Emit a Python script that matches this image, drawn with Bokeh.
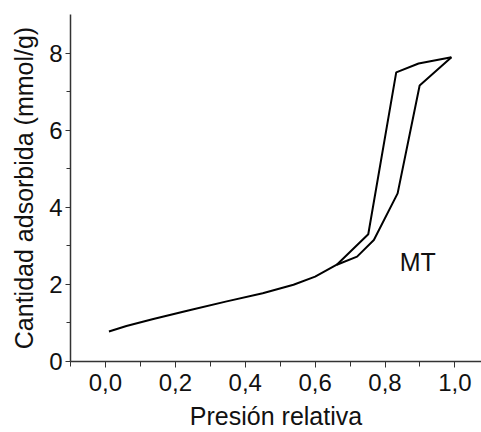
from bokeh.plotting import figure
from bokeh.models import FixedTicker, CustomJSTickFormatter, Range1d, Label
from bokeh.embed import file_html
from bokeh.resources import INLINE

# Adsorption branch (relative pressure, mmol/g)
ads_p = [0.01, 0.06, 0.137, 0.24, 0.347, 0.45, 0.538, 0.60, 0.662, 0.72, 0.768, 0.836, 0.899, 0.990]
ads_q = [0.78, 0.92, 1.10, 1.33, 1.56, 1.77, 1.99, 2.20, 2.51, 2.72, 3.15, 4.36, 7.16, 7.89]
# Desorption branch
des_p = [0.990, 0.896, 0.832, 0.752, 0.662]
des_q = [7.89, 7.73, 7.50, 3.30, 2.51]

x_ticks = [0.0, 0.2, 0.4, 0.6, 0.8, 1.0]
x_minor = [-0.1, 0.1, 0.3, 0.5, 0.7, 0.9]
y_ticks = [0, 2, 4, 6, 8]
y_minor = [1, 3, 5, 7]

x_title = "Presión relativa"
y_title = "Cantidad adsorbida (mmol/g)"
sample = "MT"

FONT = "Liberation Sans"

p = figure(width=481, height=432, output_backend="svg", toolbar_location=None,
           x_range=Range1d(-0.1, 1.076), y_range=Range1d(0, 9),
           min_border_left=70, min_border_top=14, min_border_right=0, min_border_bottom=70)
p.outline_line_color = None
p.grid.visible = False
p.background_fill_color = "white"
p.border_fill_color = "white"

p.line(ads_p, ads_q, line_color="black", line_width=2)
p.line(des_p, des_q, line_color="black", line_width=2)

p.add_layout(Label(x=0.842, y=2.59, text=sample, text_font=FONT, text_font_size="25px",
                   text_color="#111111", text_align="left", text_baseline="alphabetic"))

for ax in (p.xaxis[0], p.yaxis[0]):
    ax.axis_line_color = "#333333"
    ax.axis_line_width = 1.5
    ax.major_tick_line_color = "#333333"
    ax.minor_tick_line_color = "#333333"
    ax.major_tick_in = 0
    ax.minor_tick_in = 0
    ax.major_label_text_font = FONT
    ax.major_label_text_font_size = "24px"
    ax.major_label_text_color = "#111111"
    ax.axis_label_text_font = FONT
    ax.axis_label_text_font_size = "25px"
    ax.axis_label_text_font_style = "normal"
    ax.axis_label_text_color = "#111111"

p.xaxis.ticker = FixedTicker(ticks=x_ticks, minor_ticks=x_minor)
p.yaxis.ticker = FixedTicker(ticks=y_ticks, minor_ticks=y_minor)
p.xaxis.formatter = CustomJSTickFormatter(code="return tick.toFixed(1).replace('.', ',');")
p.yaxis.formatter = CustomJSTickFormatter(code="return tick.toFixed(0);")

p.xaxis.major_tick_out = 6
p.xaxis.minor_tick_out = 5
p.yaxis.major_tick_out = 5
p.yaxis.minor_tick_out = 4
p.xaxis.major_label_standoff = 6
p.yaxis.major_label_standoff = 3
p.xaxis.axis_label_standoff = 8
p.yaxis.axis_label_standoff = 8
p.xaxis.axis_label = x_title
p.yaxis.axis_label = y_title

open("out.html", "w").write(file_html(p, INLINE))
